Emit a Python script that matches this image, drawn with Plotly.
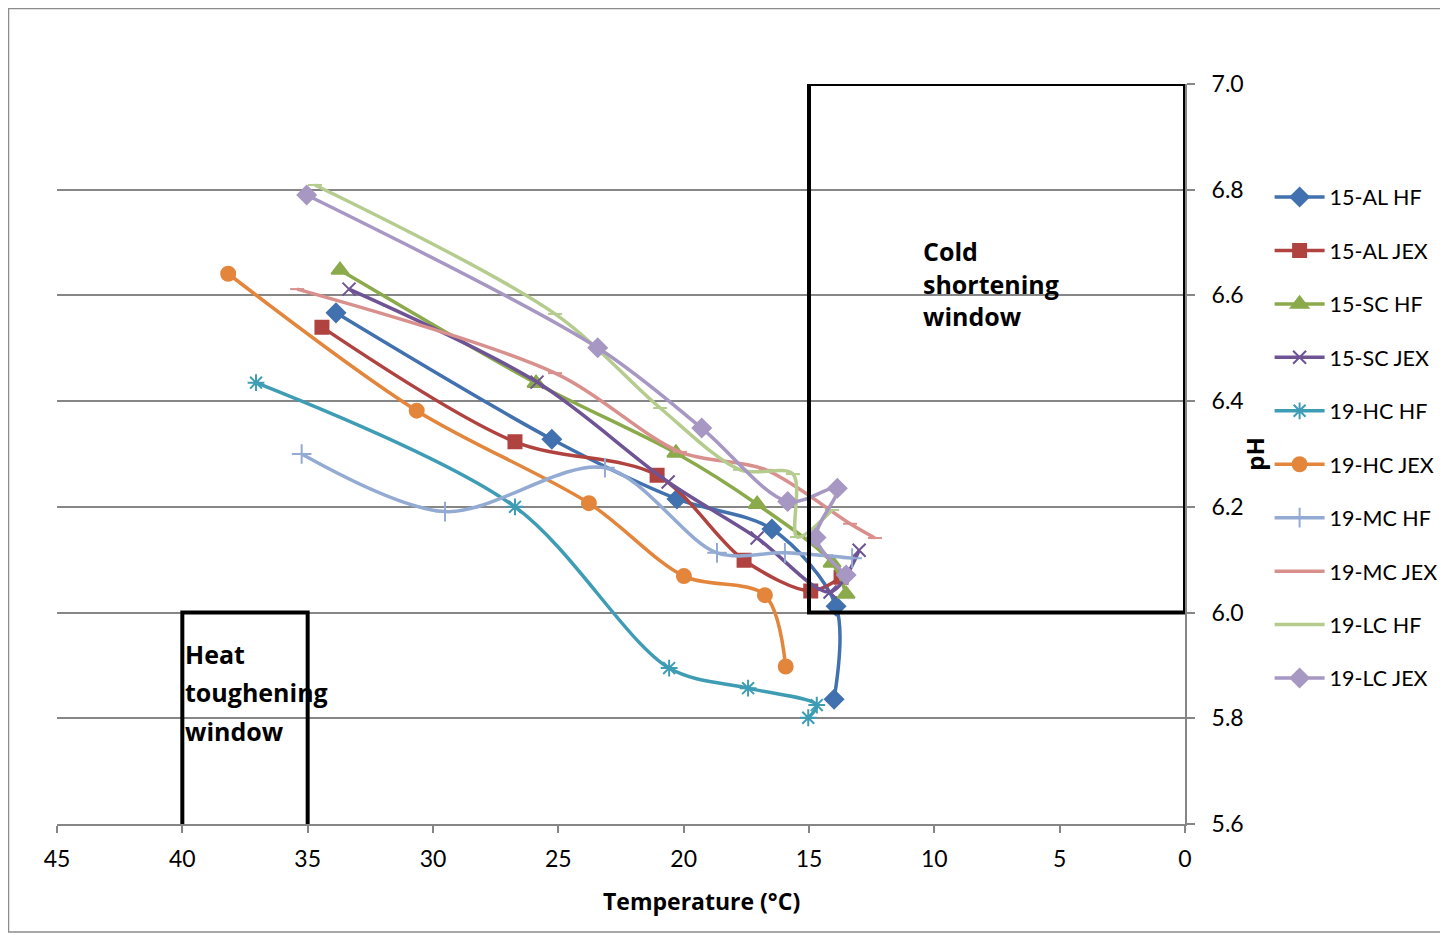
import plotly.graph_objects as go

# ---- Data ----
names = ["15-AL HF", "15-AL JEX", "15-SC HF", "15-SC JEX", "19-HC HF",
         "19-HC JEX", "19-MC HF", "19-MC JEX", "19-LC HF", "19-LC JEX"]

al15_hf_t = [33.87, 25.26, 20.27, 16.48, 13.92, 14.0]
al15_hf_ph = [6.567, 6.328, 6.215, 6.158, 6.012, 5.836]

al15_jex_t = [34.43, 26.73, 21.06, 17.59, 14.93, 13.72]
al15_jex_ph = [6.540, 6.323, 6.260, 6.099, 6.041, 6.067]

sc15_hf_t = [33.71, 25.89, 20.31, 17.07, 14.08, 13.52]
sc15_hf_ph = [6.648, 6.434, 6.302, 6.205, 6.094, 6.035]

sc15_jex_t = [33.35, 25.85, 20.62, 17.07, 14.16, 13.0]
sc15_jex_ph = [6.612, 6.436, 6.247, 6.141, 6.039, 6.118]

hc19_hf_t = [37.06, 26.73, 20.58, 17.43, 14.69, 15.03]
hc19_hf_ph = [6.435, 6.200, 5.895, 5.857, 5.825, 5.801]

hc19_jex_t = [38.17, 30.65, 23.78, 19.99, 16.76, 15.93]
hc19_jex_ph = [6.641, 6.382, 6.207, 6.069, 6.033, 5.898]

mc19_hf_t = [35.24, 29.52, 23.14, 18.67, 15.96, 13.28]
mc19_hf_ph = [6.300, 6.191, 6.274, 6.113, 6.113, 6.103]

mc19_jex_t = [35.42, 25.13, 20.15, 16.72, 13.36, 12.37]
mc19_jex_ph = [6.612, 6.453, 6.304, 6.270, 6.168, 6.141]

lc19_hf_t = [34.71, 25.13, 20.94, 17.75, 15.64, 15.48, 14.08]
lc19_hf_ph = [6.809, 6.565, 6.387, 6.270, 6.262, 6.143, 6.194]

lc19_jex_t = [35.04, 23.43, 19.28, 15.85, 13.87, 14.72, 13.52]
lc19_jex_ph = [6.790, 6.501, 6.349, 6.210, 6.235, 6.142, 6.071]

x_ticks = [45, 40, 35, 30, 25, 20, 15, 10, 5, 0]
y_ticks = [5.6, 5.8, 6.0, 6.2, 6.4, 6.6, 6.8, 7.0]

# ---- Styles ----
series = [
    (al15_hf_t, al15_hf_ph, "#4171AE", "diamond", 14),
    (al15_jex_t, al15_jex_ph, "#B04340", "square", 13),
    (sc15_hf_t, sc15_hf_ph, "#8BAA4B", "triangle-up", 15),
    (sc15_jex_t, sc15_jex_ph, "#6E5494", "x-thin-open", 13),
    (hc19_hf_t, hc19_hf_ph, "#3E9DB4", "asterisk-open", 14),
    (hc19_jex_t, hc19_jex_ph, "#E3853B", "circle", 14),
    (mc19_hf_t, mc19_hf_ph, "#93AAD3", "cross-thin-open", 14),
    (mc19_jex_t, mc19_jex_ph, "#D9908D", "line-ew-open", 10),
    (lc19_hf_t, lc19_hf_ph, "#B5CC8E", "line-ew-open", 10),
    (lc19_jex_t, lc19_jex_ph, "#A797C3", "diamond", 14),
]

FONT = "Lato, 'Open Sans', sans-serif"
BFONT = "'Open Sans', Lato, sans-serif"

fig = go.Figure()
for name, (xs, ys, col, sym, sz) in zip(names, series):
    fig.add_trace(go.Scatter(
        x=xs, y=ys, name=name, mode="lines+markers",
        legendgroup=name,
        line=dict(color=col, width=3.5, shape="spline", smoothing=0.9),
        marker=dict(symbol=sym, size=sz, color=col,
                    line=dict(color=col, width=2)),
    ))

# Windows
fig.add_shape(type="rect", xref="x", yref="y", x0=15, x1=0, y0=6.0, y1=7.0,
              line=dict(color="black", width=4), layer="above")
fig.add_shape(type="path", xref="x", yref="y",
              path="M 40,5.6 L 40,6.0 L 35,6.0 L 35,5.6",
              line=dict(color="black", width=4), layer="above")

L, T, PW, PH = 49, 76, 1128, 740
W, H = 1440, 927
# Outer chart border
fig.add_shape(type="rect", xref="paper", yref="paper",
              x0=(0.5 - L) / PW, x1=(W + 20 - L) / PW,
              y0=(T + PH - 924) / PH, y1=(T + PH - 0.5) / PH,
              line=dict(color="#8C8C8C", width=1.5), layer="below")

ann_font = dict(family=BFONT, size=25, color="black", weight="bold")
fig.add_annotation(x=10.55, y=6.6235, xref="x", yref="y",
                   text="Cold<br>shortening<br>window", align="left",
                   showarrow=False, xanchor="left", yanchor="middle",
                   font=ann_font)
for txt, yy in [("Heat", 5.922), ("toughening", 5.850), ("window", 5.776)]:
    fig.add_annotation(x=39.97, y=yy, xref="x", yref="y", text=txt,
                       showarrow=False, xanchor="left", yanchor="middle",
                       font=ann_font)

# x-axis title (offset to the right as in the reference)
fig.add_annotation(x=(701 - 57) / PW, y=(824 - 901) / PH, xref="paper",
                   yref="paper", text="Temperature (°C)", showarrow=False,
                   xanchor="center", yanchor="middle",
                   font=dict(family=BFONT, size=23, color="black",
                             weight="bold"))

fig.update_layout(
    width=W, height=H,
    margin=dict(l=L, r=W - L - PW, t=T, b=H - T - PH, autoexpand=False),
    paper_bgcolor="white", plot_bgcolor="white",
    font=dict(family=FONT, size=22, color="black"),
    showlegend=True,
    legend=dict(x=1.075, y=0.875, xanchor="left", yanchor="top",
                font=dict(size=21.5, family=FONT), tracegroupgap=22.5,
                itemwidth=50, bgcolor="rgba(0,0,0,0)"),
    xaxis=dict(range=[45, 0], tickvals=x_ticks, ticks="outside",
               ticklen=7, tickcolor="#868686", tickwidth=1.5,
               showline=True, linecolor="#868686", linewidth=2,
               showgrid=False, zeroline=False, ticklabelstandoff=6,
               automargin=False,
               tickfont=dict(size=23, family=FONT)),
    yaxis=dict(range=[5.6, 7.0], tickvals=y_ticks, tickformat=".1f",
               side="right", ticks="outside", ticklen=8,
               tickcolor="#868686", tickwidth=1.5,
               showline=True, linecolor="#868686", linewidth=2,
               showgrid=True, gridcolor="#868686", gridwidth=1.5,
               zeroline=False, ticklabelstandoff=12, automargin=False,
               tickfont=dict(size=23, family=FONT),
               title=dict(text="<b>pH</b>", font=dict(size=24, family=BFONT),
                          standoff=4)),
)

fig.write_html("out.html")
